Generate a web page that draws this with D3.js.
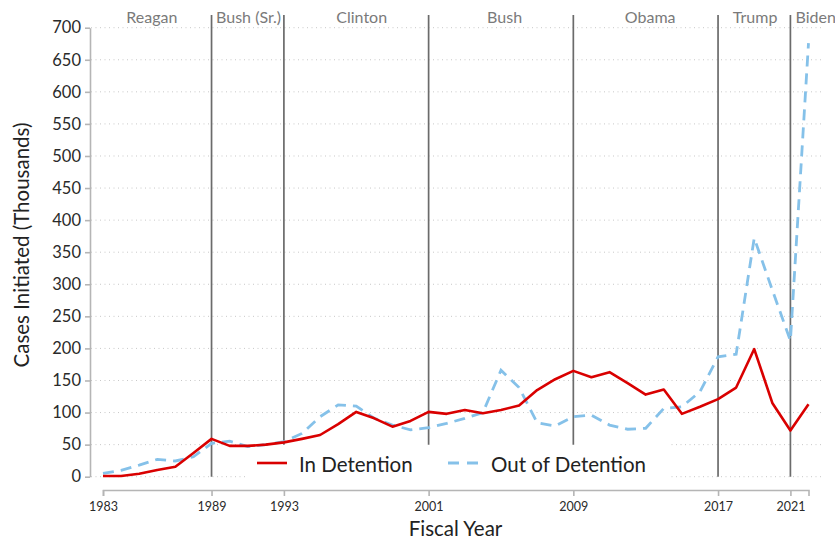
<!DOCTYPE html>
<html>
<head>
<meta charset="utf-8">
<script src="https://cdn.jsdelivr.net/npm/d3@7"></script>
<style>
  body { margin: 0; background: #fff; }
  text { font-family: Lato, "Open Sans", sans-serif; }
</style>
</head>
<body>
<script>
let w = 835;
let h = 540;

let years = d3.range(1983, 2023)

let inDetention = [1, 1, 4.5, 10.5, 15.5, 37, 59, 48, 48, 50, 53.5, 59, 65, 82, 101, 91, 78, 87,
    101, 98, 104, 99, 104, 111, 135, 152, 165, 155, 163, 146, 128, 136, 98, 109, 121, 139, 199, 115, 72, 113]

let outDetention = [5, 10, 18, 27, 24.5, 31, 52, 55.5, 47, 50, 54.5, 67.5, 93.5, 112, 110, 91, 80.5, 73,
    76.5, 83, 91, 100, 166, 139, 84, 79, 93.5, 96, 80.5, 74, 75.5, 106.5, 109, 132.5, 187, 191, 372, 291, 212, 676]

let presYears = [1989, 1993, 2001, 2009, 2017, 2021]
let presLineBottom = [0, 50, 50, 50, 0, 0]
let presNames = ["Reagan", "Bush (Sr.)", "Clinton", "Bush", "Obama", "Trump", "Biden"]
let presLabelYear = [1985.7, 1991.05, 1997.3, 2005.2, 2013.25, 2019.05, 2022.4]

let xTicks = [1983, 1989, 1993, 2001, 2009, 2017, 2021]
let yTicks = d3.range(0, 701, 50)

let xScale = d3.scaleLinear()
    .domain([1983, 2022])
    .range([103, 808.5])

let yScale = d3.scaleLinear()
    .domain([0, 700])
    .range([476.7, 27.7])

let svg = d3.select("body")
    .append("svg")
    .attr("width", w)
    .attr("height", h)

// dotted gridlines
svg.append("g")
    .selectAll("line")
    .data(yTicks)
    .enter()
    .append("line")
    .attr("x1", 91)
    .attr("x2", 821)
    .attr("y1", d => yScale(d))
    .attr("y2", d => yScale(d))
    .attr("stroke", "#c8c8c8")
    .attr("stroke-width", 1)
    .attr("stroke-dasharray", "1,3.5")

// legend backing box
svg.append("rect")
    .attr("x", 245)
    .attr("y", 443)
    .attr("width", 423)
    .attr("height", 45)
    .attr("fill", "white")

// president dividers
svg.append("g")
    .selectAll("line")
    .data(presYears)
    .enter()
    .append("line")
    .attr("x1", d => xScale(d))
    .attr("x2", d => xScale(d))
    .attr("y1", 15)
    .attr("y2", (d, i) => yScale(presLineBottom[i]))
    .attr("stroke", "#6b6b6b")
    .attr("stroke-width", 1.7)

svg.append("g")
    .selectAll("text")
    .data(presNames)
    .enter()
    .append("text")
    .text(d => d)
    .attr("x", (d, i) => xScale(presLabelYear[i]))
    .attr("y", 23)
    .attr("text-anchor", "middle")
    .attr("fill", "#7a7a7a")
    .attr("font-size", "16px")

// axes
let yAxis = svg.append("g")
    .attr("transform", "translate(90,0)")
    .call(d3.axisLeft(yScale).tickValues(yTicks).tickSize(5).tickSizeOuter(0).tickPadding(4))

yAxis.selectAll("text")
    .attr("font-size", "16.5px")
    .attr("fill", "#2a2a2a")
    .style("font-family", "Lato, sans-serif")

let xAxis = svg.append("g")
    .attr("transform", "translate(0,490)")
    .call(d3.axisBottom(xScale).tickValues(xTicks).tickFormat(d3.format("d")).tickSize(6).tickSizeOuter(6).tickPadding(6))

xAxis.selectAll("text")
    .attr("font-size", "12.5px")
    .attr("fill", "#2a2a2a")
    .style("font-family", "Lato, sans-serif")

svg.selectAll(".domain, .tick line")
    .attr("stroke", "#b5b5b5")
    .attr("stroke-width", 1.6)

// series lines
let line = d3.line()
    .x((d, i) => xScale(years[i]))
    .y(d => yScale(d))

svg.append("path")
    .datum(outDetention)
    .attr("d", line)
    .attr("fill", "none")
    .attr("stroke", "#85c1e9")
    .attr("stroke-width", 2.8)
    .attr("stroke-dasharray", "11,7")

svg.append("path")
    .datum(inDetention)
    .attr("d", line)
    .attr("fill", "none")
    .attr("stroke", "#d90000")
    .attr("stroke-width", 2.6)
    .attr("stroke-linejoin", "round")

// legend
svg.append("line")
    .attr("x1", 257).attr("x2", 287)
    .attr("y1", 463).attr("y2", 463)
    .attr("stroke", "#d90000")
    .attr("stroke-width", 2.6)

svg.append("text")
    .text("In Detention")
    .attr("x", 299)
    .attr("y", 471.5)
    .attr("font-size", "20.5px")
    .attr("fill", "#222")

svg.append("line")
    .attr("x1", 448).attr("x2", 478)
    .attr("y1", 463).attr("y2", 463)
    .attr("stroke", "#85c1e9")
    .attr("stroke-width", 2.8)
    .attr("stroke-dasharray", "11,8")

svg.append("text")
    .text("Out of Detention")
    .attr("x", 491)
    .attr("y", 471.5)
    .attr("font-size", "20.5px")
    .attr("fill", "#222")

// axis titles
svg.append("text")
    .text("Fiscal Year")
    .attr("x", 455.5)
    .attr("y", 536)
    .attr("text-anchor", "middle")
    .attr("font-size", "20.5px")
    .attr("fill", "#222")

svg.append("text")
    .text("Cases Initiated (Thousands)")
    .attr("transform", "translate(29,245) rotate(-90)")
    .attr("text-anchor", "middle")
    .attr("font-size", "20.5px")
    .attr("fill", "#222")
</script>
</body>
</html>
